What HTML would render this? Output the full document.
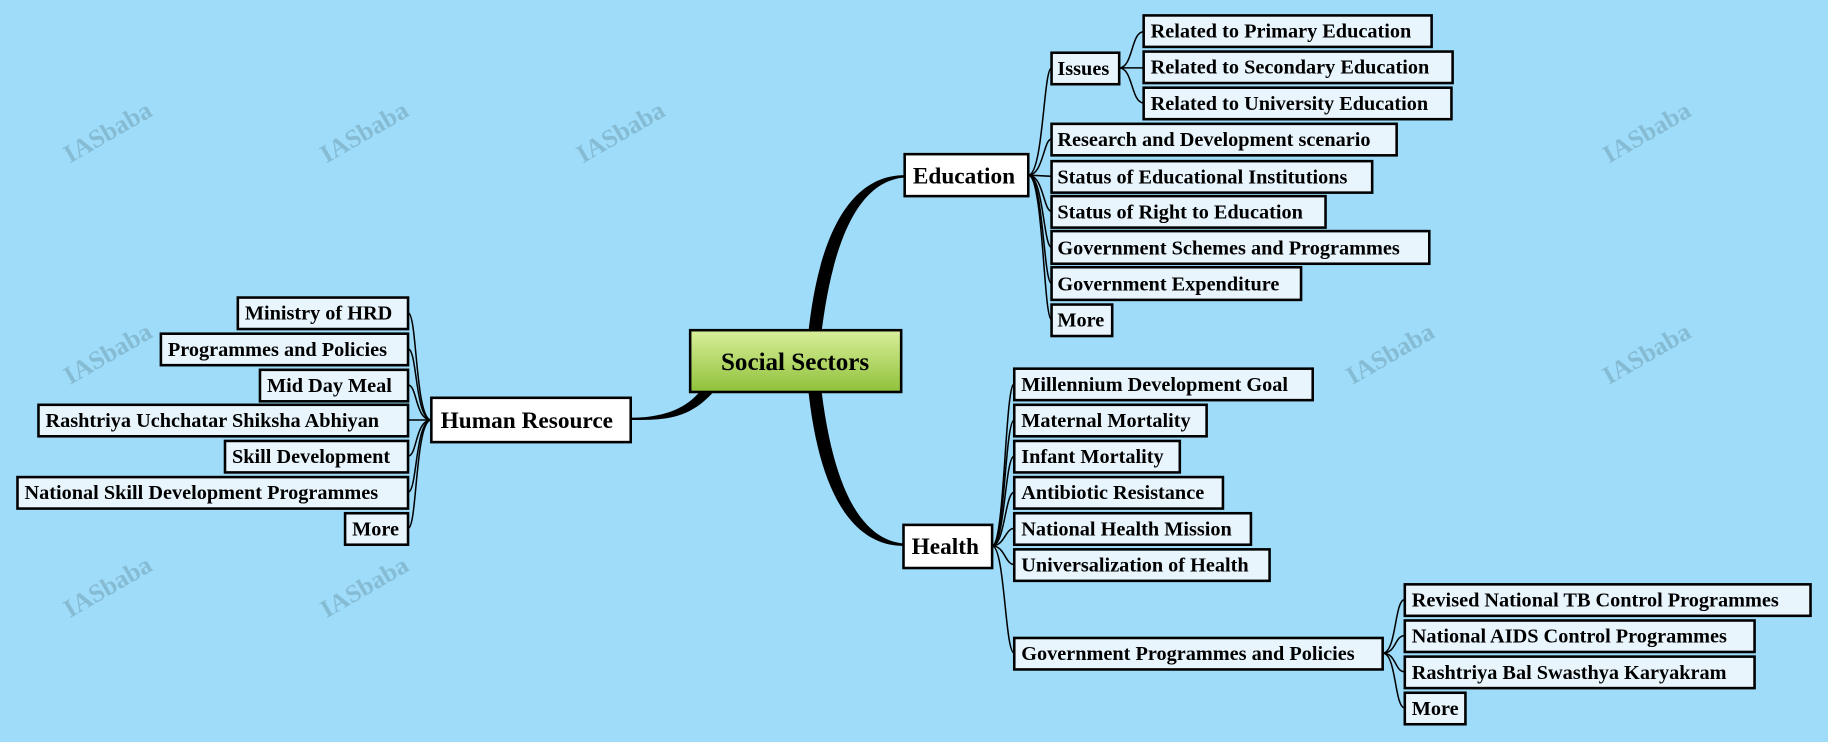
<!DOCTYPE html>
<html><head><meta charset="utf-8"><style>
html,body{margin:0;padding:0;background:#9edcf9;overflow:hidden}
svg{display:block}
text{font-family:"Liberation Serif",serif;font-weight:bold;fill:#000}
.c rect{fill:#e9f5fd;stroke:#000;stroke-width:2.2}
.c text{font-size:17.4px}
.m rect{fill:#fff;stroke:#000;stroke-width:2.2}
.m text{font-size:20px}
.l{fill:none;stroke:#000;stroke-width:1.3}
</style></head><body>
<svg width="1828" height="742" viewBox="0 0 1568 636" xmlns="http://www.w3.org/2000/svg">
<defs><linearGradient id="g" x1="0" y1="0" x2="0" y2="1"><stop offset="0" stop-color="#d9ef9a"/><stop offset="1" stop-color="#8fc13a"/></linearGradient></defs>
<rect width="1568" height="636" fill="#9edcf9"/>
<g fill="#e6c8f2" opacity="0.15" font-family="Liberation Serif" font-size="22">
<text x="60" y="140" transform="rotate(-30 60 140)">IASbaba</text>
<text x="280" y="140" transform="rotate(-30 280 140)">IASbaba</text>
<text x="500" y="140" transform="rotate(-30 500 140)">IASbaba</text>
<text x="1380" y="140" transform="rotate(-30 1380 140)">IASbaba</text>
<text x="60" y="330" transform="rotate(-30 60 330)">IASbaba</text>
<text x="1160" y="330" transform="rotate(-30 1160 330)">IASbaba</text>
<text x="1380" y="330" transform="rotate(-30 1380 330)">IASbaba</text>
<text x="60" y="530" transform="rotate(-30 60 530)">IASbaba</text>
<text x="280" y="530" transform="rotate(-30 280 530)">IASbaba</text>
</g>
<path d="M692,300 C700,200 730,150 776,150 L776,152 C735,155 712,210 703,300 Z" fill="#000"/>
<path d="M692,320 C700,420 730,468 775,468 L775,466 C735,462 712,410 703,320 Z" fill="#000"/>
<path d="M612,336 C590,360 570,360 541,360 L541,358 C570,358 588,350 600,336 Z" fill="#000"/>
<g class="l">
<path d="M882,150 C895,150 895,58 902,58"/>
<path d="M882,150 C895,150 895,119 902,119"/>
<path d="M882,150 L902,151"/>
<path d="M882,150 C895,150 895,181 902,181"/>
<path d="M882,150 C895,150 895,212 902,212"/>
<path d="M882,150 C895,150 895,243 902,243"/>
<path d="M882,150 C895,150 895,274 902,274"/>
<path d="M960,58 C972,58 970,27 981,27"/>
<path d="M960,58 L981,58"/>
<path d="M960,58 C972,58 970,88 981,88"/>
<path d="M851,468 C862,468 862,329 870,329"/>
<path d="M851,468 C862,468 862,360 870,360"/>
<path d="M851,468 C862,468 862,391 870,391"/>
<path d="M851,468 C862,468 862,422 870,422"/>
<path d="M851,468 C862,468 862,453 870,453"/>
<path d="M851,468 C862,468 862,484 870,484"/>
<path d="M851,468 C862,468 862,560 870,560"/>
<path d="M1186,560 C1198,560 1196,514 1205,514"/>
<path d="M1186,560 C1198,560 1196,545 1205,545"/>
<path d="M1186,560 C1198,560 1196,576 1205,576"/>
<path d="M1186,560 C1198,560 1196,607 1205,607"/>
<path d="M370,360 C356,360 358,268 350,268"/>
<path d="M370,360 C356,360 358,299 350,299"/>
<path d="M370,360 C356,360 358,330 350,330"/>
<path d="M370,360 L350,360"/>
<path d="M370,360 C356,360 358,391 350,391"/>
<path d="M370,360 C356,360 358,422 350,422"/>
<path d="M370,360 C356,360 358,453 350,453"/>
</g>
<rect x="592" y="283" width="181" height="53" fill="url(#g)" stroke="#000" stroke-width="2.2"/>
<text x="682" y="317" text-anchor="middle" font-size="21.5">Social Sectors</text>
<g class="m">
<rect x="776" y="132" width="106" height="36"/><text x="783" y="157">Education</text>
<rect x="775" y="450" width="76" height="37"/><text x="782" y="475">Health</text>
<rect x="370" y="341" width="171" height="38"/><text x="378" y="367">Human Resource</text>
</g>
<g class="c">
<rect x="902" y="45" width="58" height="27"/><text x="907" y="64">Issues</text>
<rect x="981" y="13" width="247" height="27"/><text x="987" y="32">Related to Primary Education</text>
<rect x="981" y="44" width="265" height="27"/><text x="987" y="63">Related to Secondary Education</text>
<rect x="981" y="75" width="264" height="27"/><text x="987" y="94">Related to University Education</text>
<rect x="902" y="106" width="296" height="27"/><text x="907" y="125">Research and Development scenario</text>
<rect x="902" y="138" width="275" height="27"/><text x="907" y="157">Status of Educational Institutions</text>
<rect x="902" y="168" width="235" height="27"/><text x="907" y="187">Status of Right to Education</text>
<rect x="902" y="198" width="324" height="28"/><text x="907" y="218">Government Schemes and Programmes</text>
<rect x="902" y="229" width="214" height="28"/><text x="907" y="249">Government Expenditure</text>
<rect x="902" y="261" width="52" height="27"/><text x="907" y="280">More</text>
<rect x="870" y="316" width="256" height="27"/><text x="876" y="335">Millennium Development Goal</text>
<rect x="870" y="347" width="165" height="27"/><text x="876" y="366">Maternal Mortality</text>
<rect x="870" y="378" width="142" height="27"/><text x="876" y="397">Infant Mortality</text>
<rect x="870" y="409" width="179" height="27"/><text x="876" y="428">Antibiotic Resistance</text>
<rect x="870" y="440" width="203" height="27"/><text x="876" y="459">National Health Mission</text>
<rect x="870" y="471" width="219" height="27"/><text x="876" y="490">Universalization of Health</text>
<rect x="870" y="547" width="316" height="27"/><text x="876" y="566">Government Programmes and Policies</text>
<rect x="1205" y="501" width="348" height="27"/><text x="1211" y="520">Revised National TB Control Programmes</text>
<rect x="1205" y="532" width="300" height="27"/><text x="1211" y="551">National AIDS Control Programmes</text>
<rect x="1205" y="563" width="300" height="27"/><text x="1211" y="582">Rashtriya Bal Swasthya Karyakram</text>
<rect x="1205" y="594" width="52" height="27"/><text x="1211" y="613">More</text>
<rect x="204" y="255" width="146" height="27"/><text x="210" y="274">Ministry of HRD</text>
<rect x="138" y="286" width="212" height="27"/><text x="144" y="305">Programmes and Policies</text>
<rect x="223" y="317" width="127" height="27"/><text x="229" y="336">Mid Day Meal</text>
<rect x="33" y="347" width="317" height="27"/><text x="39" y="366">Rashtriya Uchchatar Shiksha Abhiyan</text>
<rect x="193" y="378" width="157" height="27"/><text x="199" y="397">Skill Development</text>
<rect x="15" y="409" width="335" height="27"/><text x="21" y="428">National Skill Development Programmes</text>
<rect x="296" y="440" width="54" height="27"/><text x="302" y="459">More</text>
</g>
</svg>
</body></html>
